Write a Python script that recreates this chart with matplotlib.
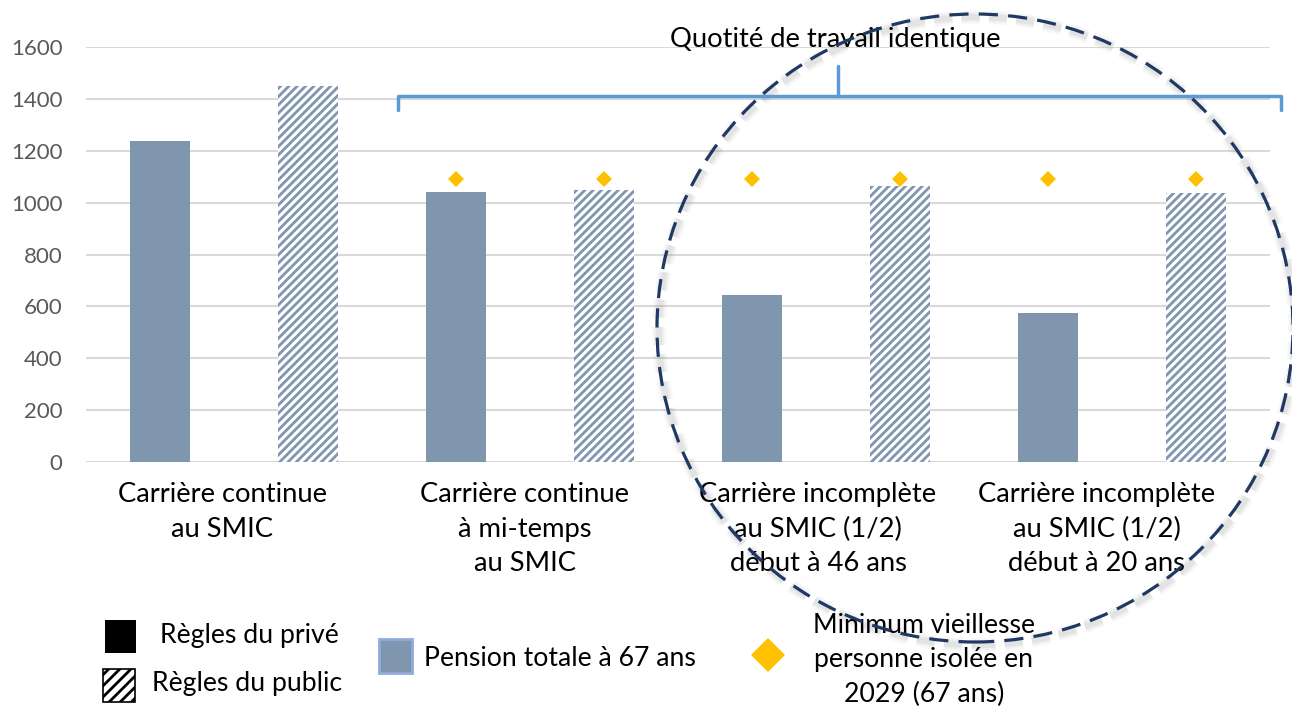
import matplotlib
matplotlib.use("Agg")
import matplotlib.pyplot as plt
from matplotlib.patches import Rectangle, Ellipse, Polygon
from matplotlib.lines import Line2D
import numpy as np

plt.rcParams['font.family'] = ['Lato', 'DejaVu Sans']
plt.rcParams['hatch.linewidth'] = 2.0

# ---- data ----
groups = ["Carrière continue\nau SMIC",
          "Carrière continue\nà mi-temps\nau SMIC",
          "Carrière incomplète\nau SMIC (1/2)\ndébut à 46 ans",
          "Carrière incomplète\nau SMIC (1/2)\ndébut à 20 ans"]
prive = [1237, 1041, 644, 574]
public = [1450, 1049, 1064, 1037]
minimum_vieillesse = [None, None, 1091, 1091, 1091, 1091, 1091, 1091]
yticks = [0, 200, 400, 600, 800, 1000, 1200, 1400, 1600]

bar_color = '#8096AF'
W, H = 1292, 708
fig = plt.figure(figsize=(W / 100, H / 100), dpi=100)
ax = fig.add_axes([86 / W, 1 - 462 / H, (1270 - 86) / W, (462 - 47) / H])

n = len(groups) * 2
x = np.arange(n)
vals = []
for a, b in zip(prive, public):
    vals += [a, b]
for i, v in enumerate(vals):
    if i % 2 == 0:
        ax.bar(x[i], v, width=0.405, color=bar_color, linewidth=0, zorder=3)
    else:
        ax.bar(x[i], v, width=0.405, facecolor='white', edgecolor=bar_color,
               hatch='////', linewidth=0, zorder=3)

mx = [xi for xi, m in zip(x, minimum_vieillesse) if m is not None]
my = [m for m in minimum_vieillesse if m is not None]
ax.plot(mx, my, linestyle='none', marker='D', markersize=8, color='#FFC000',
        markeredgewidth=0, zorder=4)

ax.set_xlim(-0.5, n - 0.5)
ax.set_ylim(0, 1600)
ax.set_yticks(yticks)
ax.set_yticklabels([str(t) for t in yticks], fontsize=16, color='#595959')
ax.tick_params(axis='y', length=0, pad=17)
ax.set_xticks([])
for s in ax.spines.values():
    s.set_visible(False)
ax.grid(axis='y', color='#D9D9D9', linewidth=1.5, zorder=0)
ax.set_axisbelow(True)

# category labels (centered roughly between each pair)
label_px = [222, 525, 818, 1097]
for g, px in zip(groups, label_px):
    fig.text(px / W, 1 - 482 / H, g, ha='center', va='top', fontsize=19.7,
             linespacing=1.48, color='black')

def P(px, py):
    return (px / W, 1 - py / H)

# bracket
bc = '#5B9BD5'
for xs, ys in [([398, 398, 1281, 1281], [110, 96, 96, 110]),
               ([838, 838], [96, 66])]:
    pts = [P(a, b) for a, b in zip(xs, ys)]
    fig.add_artist(Line2D([p[0] for p in pts], [p[1] for p in pts],
                          transform=fig.transFigure, color=bc, linewidth=2.5,
                          solid_joinstyle='round', solid_capstyle='round'))
fig.text(835 / W, 1 - 40 / H, "Quotité de travail identique", ha='center',
         va='center', fontsize=19.7, color='black')

# dashed circle with soft shadow
cx, cy, rx, ry = 975, 328, 318, 314
for lw, al in [(10, 0.05), (7, 0.07), (4.5, 0.1)]:
    fig.add_artist(Ellipse(P(cx + 2, cy + 3), 2 * rx / W, 2 * ry / H,
                           transform=fig.transFigure, fill=False,
                           edgecolor='gray', linewidth=lw, alpha=al,
                           linestyle=(0, (6 * 2.2 / lw, 3 * 2.2 / lw))))
fig.add_artist(Ellipse(P(cx, cy), 2 * rx / W, 2 * ry / H,
                       transform=fig.transFigure, fill=False,
                       edgecolor='#1F3864', linewidth=2.3,
                       linestyle=(0, (6, 3.2)), zorder=10))

# legend
def rect(x0, y0, x1, y1, **kw):
    fig.add_artist(Rectangle(P(x0, y1), (x1 - x0) / W, (y1 - y0) / H,
                             transform=fig.transFigure, **kw))

rect(105, 620, 136, 653, facecolor='black', edgecolor='black', linewidth=0)
fig.text(160 / W, 1 - 636 / H, "Règles du privé", ha='left', va='center',
         fontsize=19.2, color='black')
rect(103, 669, 135, 702, facecolor='white', edgecolor='black', hatch='///',
     linewidth=1.2)
fig.text(152 / W, 1 - 684 / H, "Règles du public", ha='left', va='center',
         fontsize=19.2, color='black')
rect(379, 639, 412, 673, facecolor=bar_color, edgecolor='#8FAADC', linewidth=2)
fig.text(424 / W, 1 - 659 / H, "Pension totale à 67 ans", ha='left',
         va='center', fontsize=19.2, color='black')
dcx, dcy, dr = 768, 655, 17
fig.add_artist(Polygon([P(dcx - dr, dcy), P(dcx, dcy - dr), P(dcx + dr, dcy),
                        P(dcx, dcy + dr)], closed=True,
                       transform=fig.transFigure, facecolor='#FFC000',
                       edgecolor='none'))
fig.text(924 / W, 1 - 660 / H,
         "Minimum vieillesse\npersonne isolée en\n2029 (67 ans)",
         ha='center', va='center', fontsize=19.2, linespacing=1.45,
         color='black')

fig.savefig('out.png', dpi=100)
